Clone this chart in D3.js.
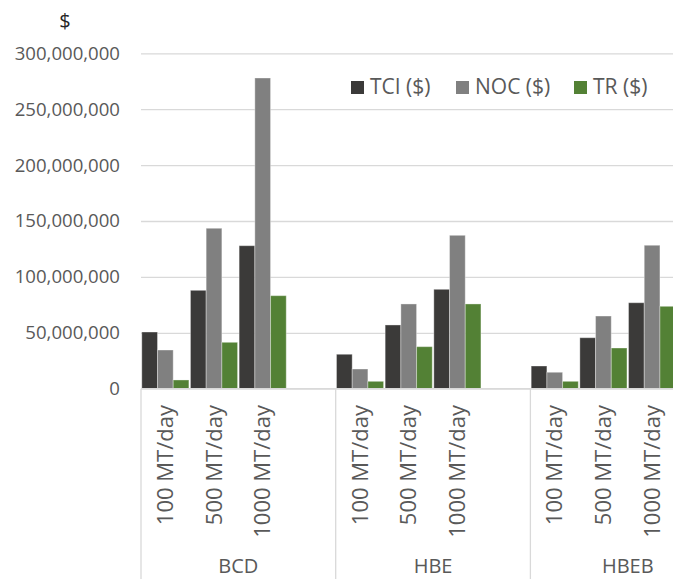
<!DOCTYPE html>
<meta charset="utf-8">
<title>TCI NOC TR</title>
<style>
    body { margin: 0; background: #fff; }
    text {
        font-family: "Open Sans", sans-serif;
        fill: #595959;
    }
    .grid line { stroke: #d9d9d9; stroke-width: 1.3px; }
    .grid .domain { display: none; }
</style>
<svg width="673" height="579"></svg>
<script src="https://d3js.org/d3.v7.min.js"></script>
<script>

    // groups on the outer axis, plant sizes on the inner one
    var groups = ["BCD", "HBE", "HBEB"];
    var sizes = ["100 MT/day", "500 MT/day", "1000 MT/day"];
    var series = ["TCI ($)", "NOC ($)", "TR ($)"];
    var colors = ["#3b3a39", "#808080", "#538135"];

    // values in order BCD 100/500/1000, HBE ..., HBEB ...
    var tci = [50700000, 88000000, 127900000, 30800000, 57000000, 88900000, 20300000, 45600000, 76900000];
    var noc = [34600000, 143500000, 277900000, 17600000, 75800000, 137200000, 14700000, 65000000, 128300000];
    var tr = [7800000, 41500000, 83200000, 6600000, 37600000, 75800000, 6600000, 36400000, 73700000];

    var yTicks = [0, 50000000, 100000000, 150000000, 200000000, 250000000, 300000000];

    var svg = d3.select("svg"),
        width = +svg.attr("width"),
        height = +svg.attr("height");

    var plotL = 141, plotT = 53.3, plotB = 388.7, groupW = 194.7;

    var y = d3.scaleLinear().domain([0, 300000000]).range([plotB, plotT]);

    var x0 = d3.scaleBand().domain(groups).range([plotL, plotL + groups.length * groupW]);
    // last slot in every group stays empty, as in the original chart
    var x1 = d3.scaleBand().domain(sizes.concat([" "])).range([0, x0.bandwidth()]);
    var x2 = d3.scaleBand().domain(series).range([0, x1.bandwidth()]).paddingOuter(0.05);

    var rows = [];
    groups.forEach(function (g, gi) {
        sizes.forEach(function (s, si) {
            var i = gi * sizes.length + si;
            rows.push({ group: g, size: s, vals: [tci[i], noc[i], tr[i]] });
        });
    });

    // gridlines + y labels
    var yAxis = svg.append("g")
        .attr("class", "grid")
        .attr("transform", "translate(" + plotL + ",0)")
        .call(d3.axisLeft(y).tickValues(yTicks).tickFormat(d3.format(","))
            .tickSize(-(width - plotL)).tickPadding(21));
    yAxis.selectAll("text")
        .style("font-size", "18.6px")
        .style("font-family", "'Open Sans', sans-serif")
        .attr("fill", "#595959");

    svg.append("text")
        .attr("x", 65)
        .attr("y", 28)
        .attr("text-anchor", "middle")
        .style("font-size", "20px")
        .style("fill", "#262626")
        .text("$");

    // bars
    var cell = svg.append("g").selectAll("g")
        .data(rows)
        .enter().append("g")
        .attr("transform", function (d) { return "translate(" + (x0(d.group) + x1(d.size)) + ",0)"; });

    cell.selectAll("rect")
        .data(function (d) { return d.vals.map(function (v, k) { return { s: series[k], v: v, k: k }; }); })
        .enter().append("rect")
        .attr("x", function (d) { return x2(d.s); })
        .attr("y", function (d) { return y(d.v); })
        .attr("width", x2.bandwidth())
        .attr("height", function (d) { return plotB - y(d.v); })
        .attr("fill", function (d) { return colors[d.k]; })
        .attr("stroke", "#ffffff")
        .attr("stroke-opacity", 0.35)
        .attr("stroke-width", 1);

    // category axis
    var ax = svg.append("g").attr("stroke", "#d9d9d9").attr("stroke-width", 1.3);
    ax.append("line")
        .attr("x1", plotL).attr("x2", width)
        .attr("y1", plotB).attr("y2", plotB);
    ax.selectAll(".sep")
        .data(groups)
        .enter().append("line")
        .attr("x1", function (d) { return x0(d); })
        .attr("x2", function (d) { return x0(d); })
        .attr("y1", plotB).attr("y2", height);

    svg.append("g").selectAll("text")
        .data(rows)
        .enter().append("text")
        .attr("transform", function (d) {
            var cx = x0(d.group) + x1(d.size) + x1.bandwidth() / 2;
            return "translate(" + cx + ",405) rotate(-90)";
        })
        .attr("text-anchor", "end")
        .attr("dy", "0.35em")
        .style("font-size", "22px")
        .text(function (d) { return d.size; });

    svg.append("g").selectAll("text")
        .data(groups)
        .enter().append("text")
        .attr("x", function (d) { return x0(d) + x0.bandwidth() / 2; })
        .attr("y", 573)
        .attr("text-anchor", "middle")
        .style("font-size", "20px")
        .text(function (d) { return d; });

    // legend
    var legX = [351, 456, 574];
    var leg = svg.append("g").selectAll("g")
        .data(series)
        .enter().append("g")
        .attr("transform", function (d, i) { return "translate(" + legX[i] + ",0)"; });
    leg.append("rect")
        .attr("y", 81).attr("width", 13).attr("height", 13)
        .attr("fill", function (d, i) { return colors[i]; });
    leg.append("text")
        .attr("x", 19).attr("y", 94)
        .style("font-size", "21px")
        .text(function (d) { return d; });

</script>
